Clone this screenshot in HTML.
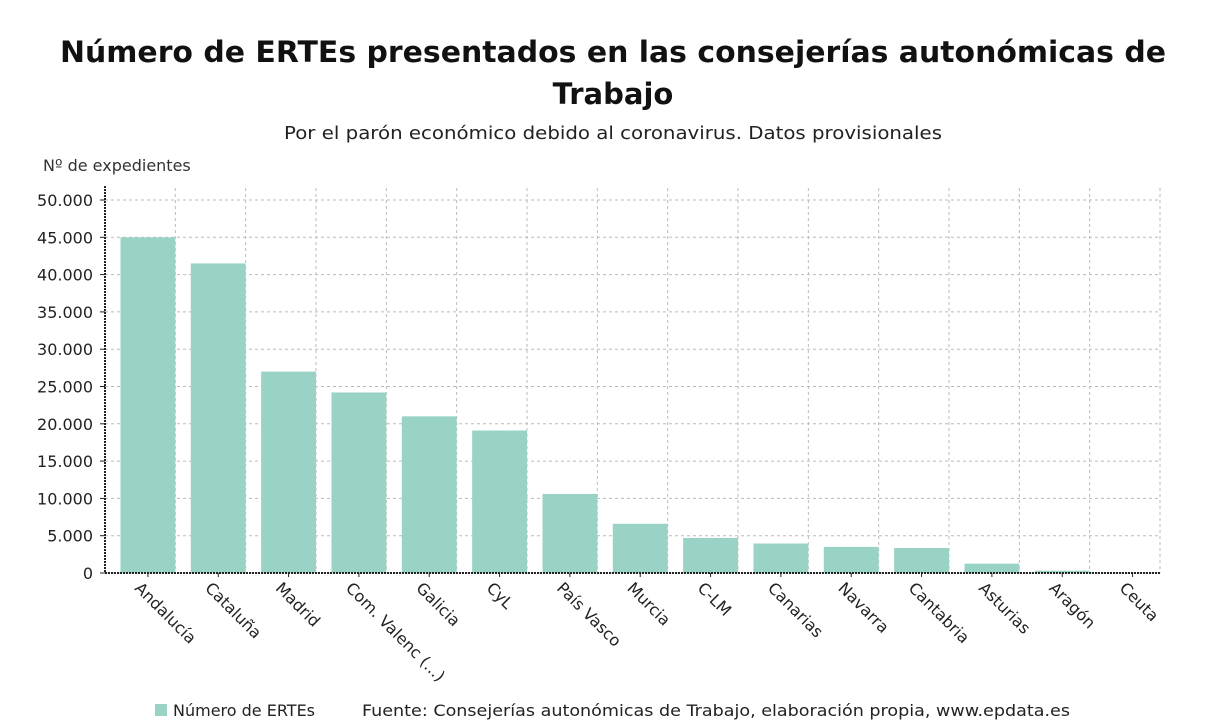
<!DOCTYPE html>
<html><head><meta charset="utf-8"><style>
body{margin:0;background:#fff;width:1226px;height:720px;overflow:hidden;font-family:"DejaVu Sans","Liberation Sans",sans-serif}
svg text{font-family:"DejaVu Sans","Liberation Sans",sans-serif}
</style></head><body>
<svg id="chart" width="1226" height="720" style="position:absolute;left:0;top:0">
<text x="613" y="62" text-anchor="middle" font-size="29" font-weight="bold" fill="#111" textLength="1106" lengthAdjust="spacingAndGlyphs">Número de ERTEs presentados en las consejerías autonómicas de</text>
<text x="613" y="104" text-anchor="middle" font-size="29" font-weight="bold" fill="#111">Trabajo</text>
<text x="613" y="139" text-anchor="middle" font-size="18" fill="#222" textLength="658" lengthAdjust="spacingAndGlyphs">Por el parón económico debido al coronavirus. Datos provisionales</text>
<text x="43" y="171" font-size="16" fill="#333">Nº de expedientes</text>
<g id="grid"></g>
<g id="bars"></g>
<g id="axes"></g>
<rect x="155" y="704" width="12" height="12" fill="#98d3c6"/>
<text x="173" y="716" font-size="16" fill="#222">Número de ERTEs</text>
<text x="362" y="716" font-size="16" fill="#222" textLength="708" lengthAdjust="spacingAndGlyphs">Fuente: Consejerías autonómicas de Trabajo, elaboración propia, www.epdata.es</text>
</svg>
<script>
const categories=["Andalucía","Cataluña","Madrid","Com. Valenc (...)","Galicia","CyL","País Vasco","Murcia","C-LM","Canarias","Navarra","Cantabria","Asturias","Aragón","Ceuta"];
const values=[45000,41500,27000,24200,21000,19100,10600,6600,4700,3950,3500,3350,1250,300,40];
const yTicks=[0,5000,10000,15000,20000,25000,30000,35000,40000,45000,50000];
const tickLabels=["0","5.000","10.000","15.000","20.000","25.000","30.000","35.000","40.000","45.000","50.000"];
const NS="http://www.w3.org/2000/svg";
const x0=105,x1=1160,y0=573,y1=200,yMax=50000;
const band=(x1-x0)/categories.length;
const xPos=i=>x0+band*i;
const yPos=v=>y0-(v/yMax)*(y0-y1);
function mk(t,a,p){const e=document.createElementNS(NS,t);for(const k in a)e.setAttribute(k,a[k]);p.appendChild(e);return e;}
const grid=document.getElementById('grid'),bars=document.getElementById('bars'),axes=document.getElementById('axes');
yTicks.forEach((v,i)=>{
  const l=mk('line',{x1:x0,x2:x1,y1:yPos(v),y2:yPos(v),stroke:'#bbb','stroke-dasharray':'3,3'},grid);
  
  
  const t=mk('text',{x:93,y:yPos(v)+6,'text-anchor':'end','font-size':16,fill:'#222'},axes);
  t.textContent=tickLabels[i];
  
  
  mk('line',{x1:x0-5,x2:x0,y1:yPos(v),y2:yPos(v),stroke:'#222'},axes);
});
for(let i=1;i<=categories.length;i++){
  const l=mk('line',{x1:xPos(i),x2:xPos(i),y1:y1-12,y2:y0,stroke:'#bbb','stroke-dasharray':'3,3'},grid);
  
  
}
categories.forEach((c,i)=>{
  const bx=xPos(i)+band*0.22, bw=band*0.78;
  const r=mk('rect',{x:bx,y:yPos(values[i]),width:bw,height:y0-yPos(values[i]),fill:'#98d3c6'},bars);
  
  
  const cx=bx+bw/2;
  mk('line',{x1:cx,x2:cx,y1:y0,y2:y0+4,stroke:'#222'},axes);
  const t=mk('text',{x:cx-14,y:y0+16,'font-size':16,fill:'#222',transform:`rotate(45 ${cx-14} ${y0+16})`},axes);
  t.textContent=c;
  
  
});
const ya=mk('line',{x1:x0,x2:x0,y1:y1-14,y2:y0,stroke:'#222','stroke-width':2,'stroke-dasharray':'2,1'},axes);


const xa=mk('line',{x1:x0,x2:x1,y1:y0,y2:y0,stroke:'#222','stroke-width':2,'stroke-dasharray':'2,1'},axes);


</script>
</body></html>
